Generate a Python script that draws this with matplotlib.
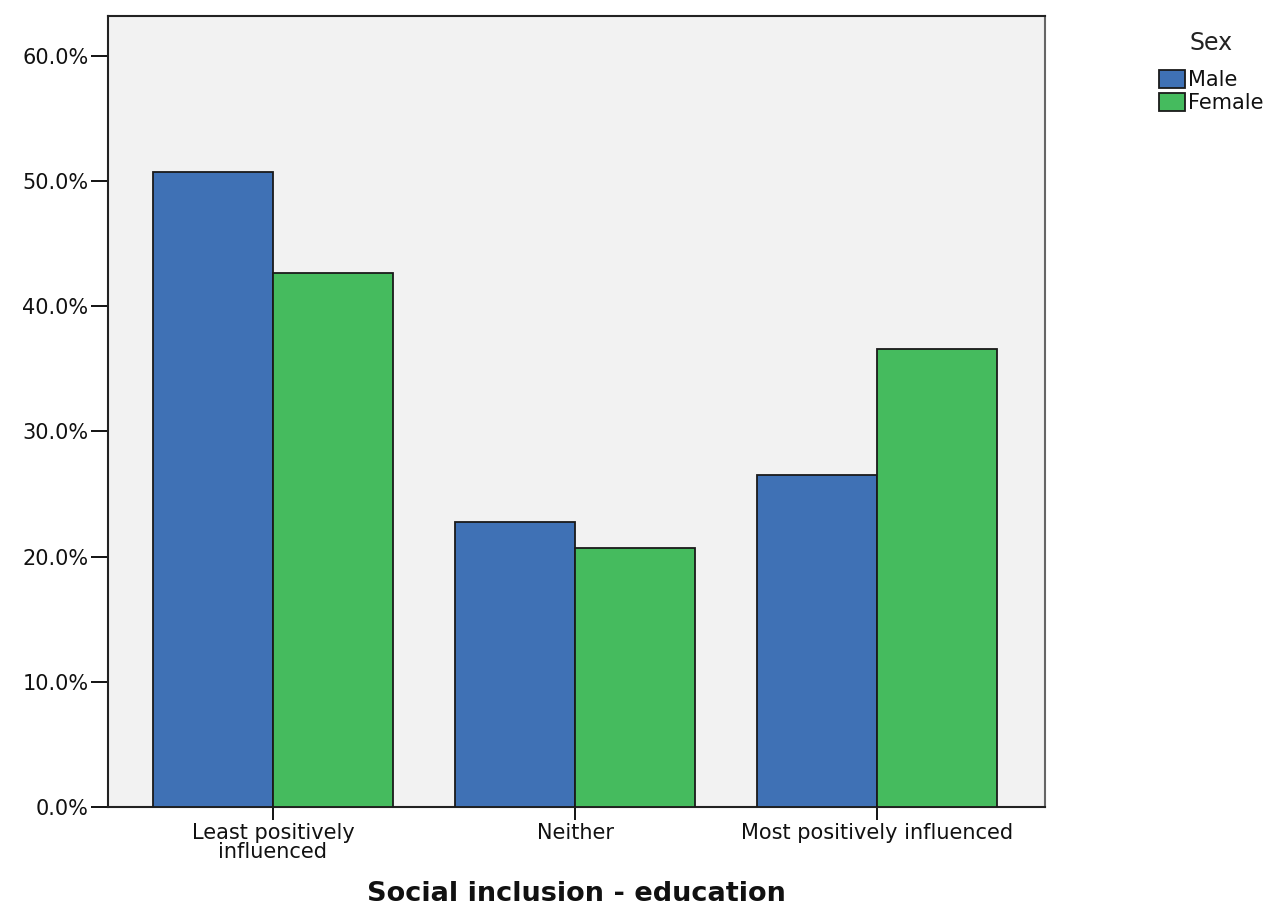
import matplotlib
matplotlib.use("Agg")
import matplotlib.pyplot as plt
import numpy as np
from matplotlib.ticker import FuncFormatter

categories = ["Least positively\ninfluenced", "Neither", "Most positively influenced"]
male = [50.7, 22.8, 26.5]
female = [42.7, 20.7, 36.6]
series_names = ["Male", "Female"]
colors = ["#3F71B5", "#45BB5E"]

plt.rcParams["font.family"] = ["DejaVu Sans"]

fig = plt.figure(figsize=(12.74, 9.07), dpi=100)
ax = fig.add_axes([0.0848, 0.1103, 0.7355, 0.8721])
ax.set_facecolor("#F2F2F2")

x = np.arange(len(categories))
w = 0.397
handles = []
for i, (vals, name, c) in enumerate(zip([male, female], series_names, colors)):
    offs = (i - 0.5) * w
    b = ax.bar(x + offs, vals, width=w, color=c, edgecolor="#1a1a1a",
               linewidth=1.3, label=name, zorder=3)
    handles.append(b)

ax.set_xlim(-0.546, 2.556)
ax.set_ylim(0, 63.2)
ax.set_yticks(np.arange(0, 61, 10))
ax.yaxis.set_major_formatter(FuncFormatter(lambda v, p: f"{v:.1f}%"))
ax.set_xticks(x)
ax.set_xticklabels(categories, fontsize=15, linespacing=0.95, color="#111111")
ax.tick_params(axis="y", length=12, width=1.3, labelsize=15, pad=2,
               labelcolor="#111111")
ax.tick_params(axis="x", length=9.5, width=1.3, pad=2)

for s in ax.spines.values():
    s.set_linewidth(1.5)
    s.set_color("#222222")
ax.spines["right"].set_color("#666666")

ax.set_xlabel("Social inclusion - education", fontsize=19.5, fontweight="bold",
              color="#111111")
ax.xaxis.set_label_coords(0.5, -0.094)

leg = fig.legend(handles=handles, labels=series_names, title="Sex",
                 loc="upper left", bbox_to_anchor=(0.898, 0.982),
                 frameon=False, fontsize=15, title_fontsize=17,
                 handlelength=1.25, handleheight=0.9, handletextpad=0.15,
                 labelspacing=0.15, borderpad=0.2)
leg._legend_box.align = "center"
leg._legend_box.sep = 11
for t in leg.get_texts():
    t.set_color("#111111")
leg.get_title().set_color("#222222")

fig.savefig("out.png", dpi=100)
